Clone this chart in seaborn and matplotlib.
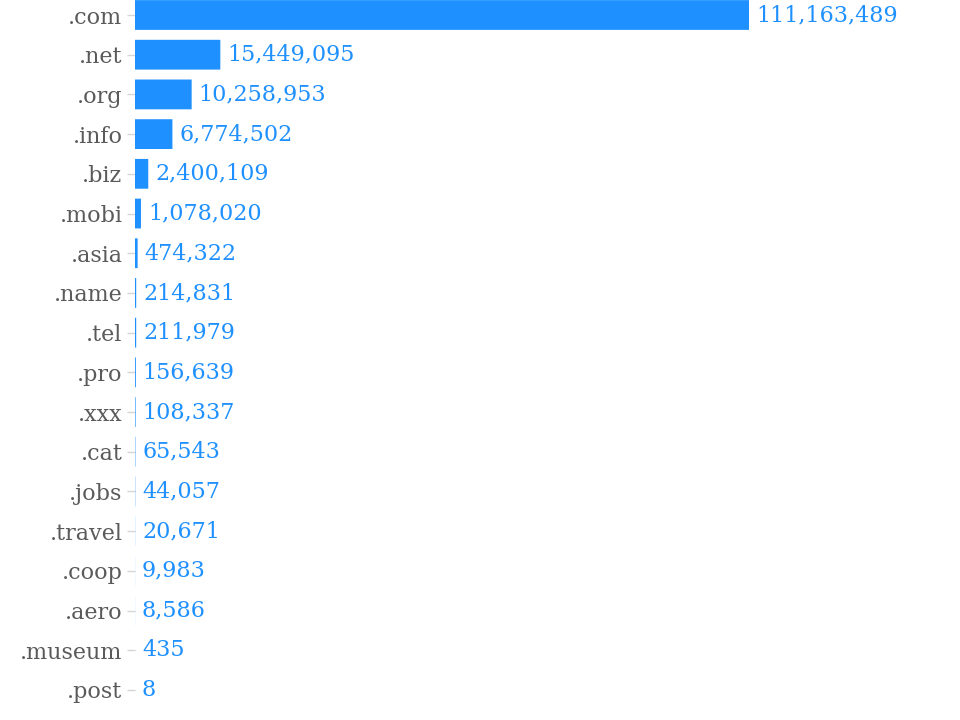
import matplotlib
matplotlib.use("Agg")
import matplotlib.pyplot as plt
import seaborn as sns
import pandas as pd

domains = [".com", ".net", ".org", ".info", ".biz", ".mobi", ".asia", ".name", ".tel",
           ".pro", ".xxx", ".cat", ".jobs", ".travel", ".coop", ".aero", ".museum", ".post"]
counts = [111163489, 15449095, 10258953, 6774502, 2400109, 1078020, 474322, 214831, 211979,
          156639, 108337, 65543, 44057, 20671, 9983, 8586, 435, 8]

df = pd.DataFrame({"domain": domains, "count": counts})

sns.set_theme(style="white")
plt.rcParams["font.family"] = ["DejaVu Serif"]

fig = plt.figure(figsize=(9.6, 7.2), dpi=100)
ax = fig.add_axes([135 / 960, 10.15 / 720, 825 / 960, 714.7 / 720])

bar_color = "#1e90ff"
sns.barplot(data=df, x="count", y="domain", orient="h", color=bar_color,
            saturation=1, width=0.75, ax=ax, linewidth=0)
for p in ax.patches:
    p.set_snap(False)
    p.set_antialiased(True)

ax.set_xlim(0, max(counts) * 825 / 614)
ax.set_ylim(len(domains) - 0.5, -0.5)

for i, v in enumerate(counts):
    ax.annotate(f"{v:,}", xy=(v, i), xytext=(5, 0), textcoords="offset points",
                va="center", ha="left", fontsize=16, color=bar_color)

ax.set_xlabel("")
ax.set_ylabel("")
ax.set_xticks([])
ax.tick_params(axis="y", length=6, width=1, color="#d5d5d5", pad=3,
               labelsize=16, labelcolor="#5a5a5a", left=True)
for s in ax.spines.values():
    s.set_visible(False)

fig.savefig("out.png", dpi=100)
